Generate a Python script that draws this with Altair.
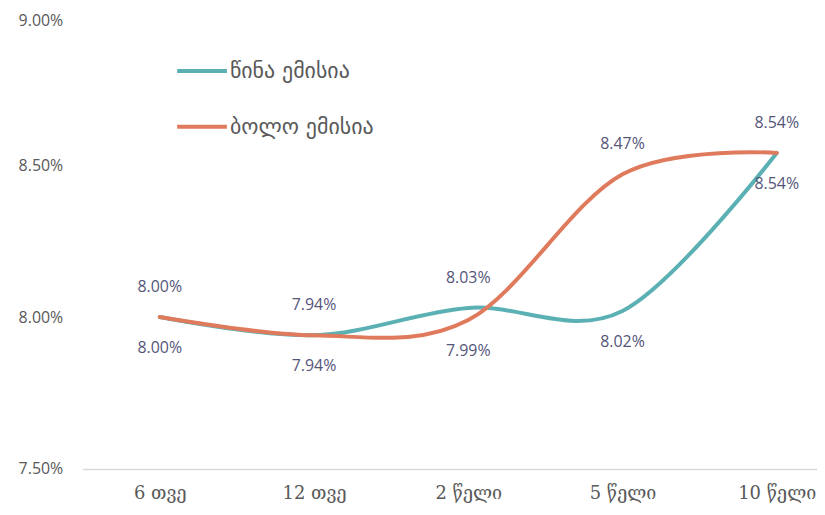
import altair as alt
import pandas as pd

categories = ["6 თვე", "12 თვე", "2 წელი", "5 წელი", "10 წელი"]
series_names = ["წინა ემისია", "ბოლო ემისია"]
prev_issue = [8.00, 7.94, 8.03, 8.02, 8.54]
last_issue = [8.00, 7.94, 7.99, 8.47, 8.54]
colors = ["#5bb0b3", "#e07a5c"]

rows = []
for i, c in enumerate(categories):
    a, b = prev_issue[i], last_issue[i]
    rows.append({"cat": c, "series": series_names[0], "v": a, "above": a >= b})
    rows.append({"cat": c, "series": series_names[1], "v": b, "above": b > a})
df = pd.DataFrame(rows)

W, H = 738, 458
x = alt.X("cat:N", sort=categories,
          scale=alt.Scale(type="point", padding=0.3806, align=0.657),
          axis=alt.Axis(title=None, labelAngle=0, ticks=False, domain=True,
                        domainColor="#d9d9d9", domainWidth=1.5,
                        labelFont="DejaVu Serif", labelFontSize=18,
                        labelColor="#595959", labelPadding=16, grid=False))
y = alt.Y("v:Q", scale=alt.Scale(domain=[7.5, 9.0], nice=False, zero=False),
          axis=alt.Axis(title=None, values=[7.5, 8.0, 8.5, 9.0],
                        labelExpr="format(datum.value, '.2f') + '%'",
                        labelOffset={"condition": {"test": "datum.value >= 9", "value": 7}, "value": 0},
                        ticks=False, domain=False, grid=False,
                        labelFont="Open Sans", labelFontSize=16,
                        labelColor="#595959", labelPadding=20))

color = alt.Color("series:N",
                  scale=alt.Scale(domain=series_names, range=colors),
                  legend=alt.Legend(title=None, orient="none", legendX=93, legendY=31,
                                    symbolType="stroke", symbolSize=2500,
                                    symbolStrokeWidth=4, labelFont="DejaVu Sans",
                                    labelFontSize=22, labelColor="#595959",
                                    rowPadding=18, labelOffset=1))

base = alt.Chart(df).transform_calculate(t="format(datum.v, '.2f') + '%'")
lines = base.mark_line(interpolate="cardinal", strokeWidth=4, strokeCap="round").encode(
    x=x, y=y, color=color)
lab_above = base.transform_filter("datum.above").mark_text(
    dy=-30, font="Open Sans", fontSize=16, color="#55557a").encode(
    x=x, y=y, text="t:N")
lab_below = base.transform_filter("!datum.above").mark_text(
    dy=31, font="Open Sans", fontSize=16, color="#55557a").encode(
    x=x, y=y, text="t:N")

chart = alt.layer(lines, lab_above, lab_below).properties(
    width=W, height=H, background="white",
    autosize=alt.AutoSizeParams(type="none"),
    padding={"left": 75, "top": 4, "right": 0, "bottom": 37},
).configure_view(strokeWidth=0, stroke=None)

chart.save("out.html", embed_options={"renderer": "svg", "actions": False})
